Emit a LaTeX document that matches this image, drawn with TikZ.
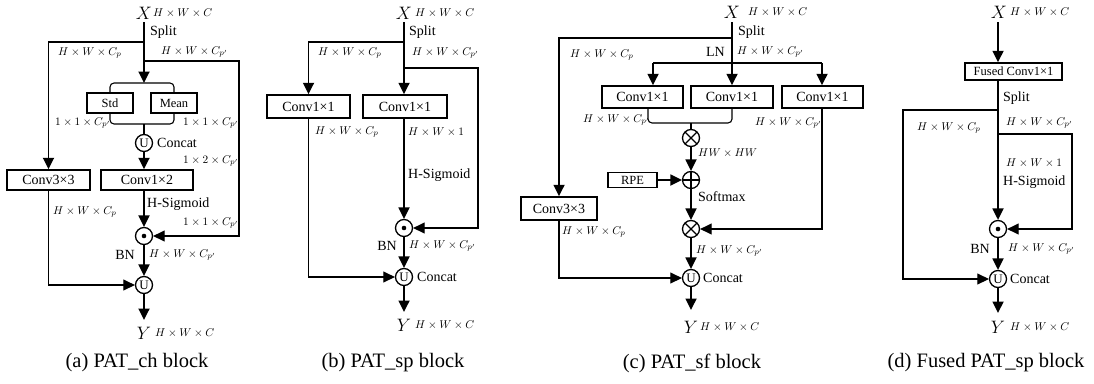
\RequirePackage{fix-cm}
\documentclass[tikz,border=0pt]{standalone}
\usepackage{fontspec}
\setmainfont{Liberation Serif}
\usetikzlibrary{arrows.meta}
\tikzset{
  txt/.style={font=\fontsize{14}{16}\selectfont, inner sep=0pt},
  tl/.style={txt, anchor=west},
  tr/.style={txt, anchor=east},
  lab/.style={font=\fontsize{11.3}{12}\selectfont, inner sep=0pt, anchor=west},
  xy/.style={font=\fontsize{18}{20}\selectfont, inner sep=0pt},
  box/.style={draw, line width=1.5pt, inner sep=0pt, font=\fontsize{14}{16}\selectfont},
  sbox/.style={box, font=\fontsize{12.5}{14}\selectfont},
  thk/.style={line width=1.8pt},
  thn/.style={line width=1.1pt},
  arr/.style={-{Triangle[length=11.5pt,width=11pt]}},
  opc/.style={circle, draw, line width=1.3pt, minimum size=17pt, inner sep=0pt, font=\fontsize{13}{13}\selectfont},
  odot/.style={opc, path picture={\fill (path picture bounding box.center) circle (2.3pt);}},
  otimes/.style={opc, path picture={
     \draw[line width=1.2pt] ([shift={(45:9pt)}]path picture bounding box.center) -- ([shift={(225:9pt)}]path picture bounding box.center);
     \draw[line width=1.2pt] ([shift={(135:9pt)}]path picture bounding box.center) -- ([shift={(315:9pt)}]path picture bounding box.center);}},
  oplus/.style={opc, path picture={
     \draw[line width=1.2pt] ([shift={(0:9pt)}]path picture bounding box.center) -- ([shift={(180:9pt)}]path picture bounding box.center);
     \draw[line width=1.2pt] ([shift={(90:9pt)}]path picture bounding box.center) -- ([shift={(270:9pt)}]path picture bounding box.center);}},
  capt/.style={font=\fontsize{20.5}{22}\selectfont, inner sep=0pt},
}
\begin{document}
\begin{tikzpicture}[x=1pt,y=-1pt]
\useasboundingbox[fill=white] (0,0) rectangle (1094,383);

% ================= (a) PAT_ch =================
\node[xy] (Xa) at (144,13) {$X$};
\node[lab] (Xal) at (153,13) {$H\times W\times C$};
\coordinate (a0) at (144,22);
\coordinate (a1) at (144,42);
\coordinate (a2) at (144,61);
\coordinate (abr) at (144,83);
\node[sbox, minimum width=46pt, minimum height=20pt] (Std) at (110,103) {Std};
\node[sbox, minimum width=46pt, minimum height=20pt] (Mean) at (174,103) {Mean};
\coordinate (abl) at (144,124);
\node[opc] (Ua) at (144,143) {U};
\node[box, minimum width=92pt, minimum height=20pt] (C12) at (147,180) {Conv1×2};
\node[box, minimum width=83pt, minimum height=20pt] (C33a) at (48.5,180) {Conv3×3};
\node[odot] (Da) at (144,236) {};
\coordinate (ar) at (239,236);
\node[opc] (Ub) at (144,285) {U};
\coordinate (ae) at (144,320);
\node[xy] (Ya) at (144,333) {$Y$};

\draw[thk,arr] (a0) -- (abr);
\draw[thn,rounded corners=4pt] (Std.north) |- (abr) -| (Mean.north);
\draw[thk,arr] (a1) -| (C33a.north);
\draw[thn,arr] (a2) -| (ar) -- (Da);
\draw[thn,rounded corners=4pt] (Std.south) |- (abl) -| (Mean.south);
\draw[thn] (abl) -- (Ua);
\draw[thk,arr] (Ua) -- (Ua |- C12.north);
\draw[thk,arr] (C12.south -| Ua) -- (Da);
\draw[thn,arr] (C33a.south) |- (Ub);
\draw[thk,arr] (Da) -- (Ub);
\draw[thk,arr] (Ub) -- (ae);

\node[tl] at (150,32) {Split};
\node[lab] at (58,53) {$H\times W\times C_p$};
\node[lab] at (161,52) {$H\times W\times C_{p'}$};
\node[lab] at (55,123) {$1\times1\times C_{p'}$};
\node[lab] at (183,123) {$1\times1\times C_{p'}$};
\node[tl] at (157,143) {Concat};
\node[lab] at (183,161) {$1\times2\times C_{p'}$};
\node[lab] at (53,212) {$H\times W\times C_p$};
\node[tl] at (147,204) {H-Sigmoid};
\node[lab] at (183,223) {$1\times1\times C_{p'}$};
\node[tr] at (135,255) {BN};
\node[lab] at (149,255) {$H\times W\times C_{p'}$};
\node[lab] at (155,333) {$H\times W\times C$};
\node[capt] at (137,363) {(a) PAT\_ch block};

% ================= (b) PAT_sp =================
\node[xy] (Xb) at (404,13) {$X$};
\node[lab] at (415,13) {$H\times W\times C$};
\coordinate (b0) at (404,22);
\coordinate (b1) at (404,42);
\coordinate (b2) at (404,68);
\coordinate (br) at (478,228);
\node[box, minimum width=83pt, minimum height=23pt] (B1) at (308.5,106.5) {Conv1×1};
\node[box, minimum width=84pt, minimum height=23pt] (B2) at (405,106.5) {Conv1×1};
\node[odot] (Db) at (404,228) {};
\node[opc] (Ubb) at (404,277) {U};
\coordinate (be) at (404,312);
\node[xy] (Yb) at (404,325) {$Y$};

\draw[thk,arr] (b0) -- (b0 |- B2.north);
\draw[thk,arr] (b1) -| (B1.north);
\draw[thn,arr] (b2) -| (br) -- (Db);
\draw[thk,arr] (b0 |- B2.south) -- (Db);
\draw[thn,arr] (B1.south) |- (Ubb);
\draw[thk,arr] (Db) -- (Ubb);
\draw[thk,arr] (Ubb) -- (be);

\node[tl] at (409,32) {Split};
\node[lab] at (318,53) {$H\times W\times C_p$};
\node[lab] at (412,53) {$H\times W\times C_{p'}$};
\node[lab] at (315,132) {$H\times W\times C_p$};
\node[lab] at (408,132) {$H\times W\times 1$};
\node[tl] at (408,175) {H-Sigmoid};
\node[tr] at (397,246) {BN};
\node[lab] at (409,246) {$H\times W\times C_{p'}$};
\node[tl] at (417,277) {Concat};
\node[lab] at (415,325) {$H\times W\times C$};
\node[capt] at (393,363) {(b) PAT\_sp block};

% ================= (c) PAT_sf =================
\node[xy] (Xc) at (732,12) {$X$};
\node[lab] at (748,12) {$H\times W\times C$};
\coordinate (c0) at (732,22);
\coordinate (c1) at (732,38);
\coordinate (cl) at (653,63);
\coordinate (cr) at (822,63);
\node[box, minimum width=81pt, minimum height=22pt] (L) at (642.5,97) {Conv1×1};
\node[box, minimum width=82pt, minimum height=22pt] (M) at (732,97) {Conv1×1};
\node[box, minimum width=81pt, minimum height=22pt] (R) at (822.5,97) {Conv1×1};
\coordinate (cb) at (691,123);
\node[otimes] (T1) at (691,138) {};
\node[oplus] (P1) at (691,180) {};
\node[sbox, minimum width=49pt, minimum height=15pt] (RPE) at (632.5,180) {RPE};
\node[otimes] (T2) at (691,229) {};
\node[box, minimum width=76pt, minimum height=23pt] (C33c) at (559,208.5) {Conv3×3};
\node[opc] (Uc) at (691,278) {U};
\coordinate (ce) at (691,310);
\node[xy] (Yc) at (691,327) {$Y$};

\draw[thk,arr] (c0) -- (c0 |- M.north);
\draw[thk,arr] (c1) -| (C33c.north);
\draw[thk] (cl) -- (cr);
\draw[thk,arr] (cl) -- (cl |- L.north);
\draw[thk,arr] (cr) -- (cr |- R.north);
\draw[thn,rounded corners=4pt] ([xshift=5.5pt]L.south) |- (cb) -| (M.south);
\draw[thn] (cb) -- (T1);
\draw[thk,arr] (T1) -- (P1);
\draw[thk,arr] (RPE) -- (P1);
\draw[thk,arr] (P1) -- (T2);
\draw[thn,arr] (cr |- R.south) |- (T2);
\draw[thn,arr] (C33c.south) |- (Uc);
\draw[thk,arr] (T2) -- (Uc);
\draw[thk,arr] (Uc) -- (ce);

\node[tl] at (738,32) {Split};
\node[lab] at (570,55) {$H\times W\times C_p$};
\node[tr] at (725,52) {LN};
\node[lab] at (737,52) {$H\times W\times C_{p'}$};
\node[lab] at (583,120) {$H\times W\times C_{p'}$};
\node[lab] at (755,123) {$H\times W\times C_{p'}$};
\node[lab] at (698,153) {$HW\times HW$};
\node[tl] at (698,197) {Softmax};
\node[lab] at (562,232) {$H\times W\times C_p$};
\node[lab] at (696,251) {$H\times W\times C_{p'}$};
\node[tl] at (703,278) {Concat};
\node[lab] at (700,327) {$H\times W\times C$};
\node[capt] at (692,363) {(c) PAT\_sf block};

% ================= (d) Fused PAT_sp =================
\node[xy] (Xd) at (999,12) {$X$};
\node[lab] at (1010,12) {$H\times W\times C$};
\coordinate (d0) at (998,22);
\node[sbox, minimum width=97pt, minimum height=17pt] (F) at (1013.5,71.5) {Fused Conv1×1};
\coordinate (d1) at (998,110);
\coordinate (dL) at (903,110);
\coordinate (d2) at (998,134);
\coordinate (dR) at (1072,134);
\node[odot] (Dd) at (998,229) {};
\node[opc] (Ud) at (998,279) {U};
\coordinate (de) at (998,313);
\node[xy] (Yd) at (998,327) {$Y$};

\draw[thk,arr] (d0) -- (d0 |- F.north);
\draw[thk,arr] (d0 |- F.south) -- (Dd);
\draw[thn,arr] (d1) -- (dL) |- (Ud);
\draw[thn,arr] (d2) -- (dR) |- (Dd);
\draw[thk,arr] (Dd) -- (Ud);
\draw[thk,arr] (Ud) -- (de);

\node[tl] at (1003,98) {Split};
\node[lab] at (917,128) {$H\times W\times C_p$};
\node[lab] at (1006,123) {$H\times W\times C_{p'}$};
\node[lab] at (1006,163) {$H\times W\times 1$};
\node[tl] at (1003,182) {H-Sigmoid};
\node[tr] at (990,249) {BN};
\node[lab] at (1008,249) {$H\times W\times C_{p'}$};
\node[tl] at (1010,279) {Concat};
\node[lab] at (1010,327) {$H\times W\times C$};
\node[capt] at (986,363) {(d) Fused PAT\_sp block};
\end{tikzpicture}
\end{document}
